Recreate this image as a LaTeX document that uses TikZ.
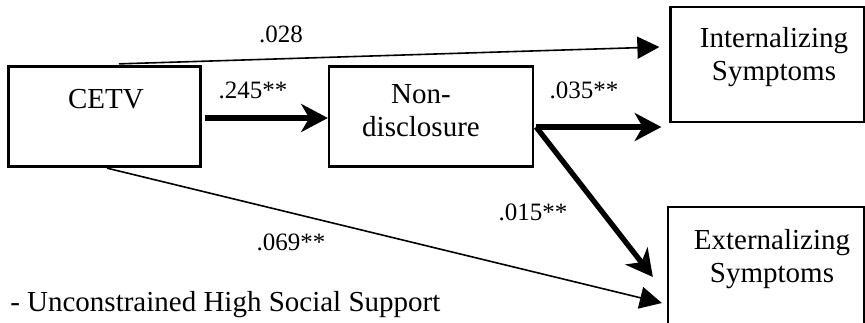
\documentclass[tikz,border=0pt]{standalone}
\usepackage{fontspec}
\setmainfont{Liberation Serif}
\usetikzlibrary{arrows.meta,calc}
\begin{document}
\begin{tikzpicture}[x=0.75pt,y=-0.75pt,
  box/.style={draw,line width=1.7pt,inner sep=0pt},
  boxtext/.style={font=\fontsize{21.75pt}{24.75pt}\selectfont,inner sep=0pt,anchor=base,align=center,text width=160pt},
  coef/.style={font=\fontsize{18.75pt}{22pt}\selectfont,inner sep=0pt,anchor=base},
  thinpath/.style={line width=1.2pt,-{Triangle[length=16.5pt,width=16.5pt]}},
  thickpath/.style={line width=4pt,-{Stealth[length=20pt,width=21pt,inset=6pt]}}]
\useasboundingbox (0,0) rectangle (865,322);
\clip (0,0) rectangle (865,322);
% boxes
\node[box,minimum width=144pt,minimum height=75pt] (cetv) at (104.5,116.5) {};
\node[box,minimum width=153pt,minimum height=75pt] (nd) at (431,116.5) {};
\node[box,minimum width=145.5pt,minimum height=86.25pt] (int) at (767.5,64.5) {};
\node[box,minimum width=147pt,minimum height=100pt] (ext) at (766,273.5) {};
% box texts
\node[boxtext] (cetvtext) at (106,108) {CETV};
\node[boxtext] (ndtext) at (421,103) {Non-\\disclosure};
\node[boxtext] (inttext) at (774,47) {Internalizing\\Symptoms};
\node[boxtext] (exttext) at (772,249) {Externalizing\\Symptoms};
% free ends
\coordinate (e028) at ($(int.west)+(-10,-17.5)$);
\coordinate (e035) at ($(int.west)+(-8,62.5)$);
\coordinate (e015) at ($(ext.west)+(-14,3.5)$);
\coordinate (e069) at ($(ext.west)+(-5,29.5)$);
\coordinate (s028) at ($(cetv.north)+(14.5,-1.5)$);
\coordinate (sout) at ($(nd.east)+(2,10.5)$);
\coordinate (s069) at ($(cetv.south)+(2.5,0.5)$);
% connectors
\draw[thinpath] (s028) -- (e028);
\draw[thickpath] ($(cetv.east)+(3,1.5)$) -- ($(nd.west)+(0,1.5)$);
\draw[thickpath] (sout) -- (e035);
\draw[thickpath] (sout) -- (e015);
\draw[thinpath] (s069) -- (e069);
% coefficients
\node[coef] (l028) at (281,42) {.028};
\node[coef] (l245) at (253,98) {.245**};
\node[coef] (l035) at (584,98) {.035**};
\node[coef] (l015) at (533,220) {.015**};
\node[coef] (l069) at (291,250) {.069**};
% footer
\node[font=\fontsize{21.75pt}{24.75pt}\selectfont,inner sep=0pt,anchor=base west] (note) at (10,311) {- Unconstrained High Social Support};
\end{tikzpicture}
\end{document}
